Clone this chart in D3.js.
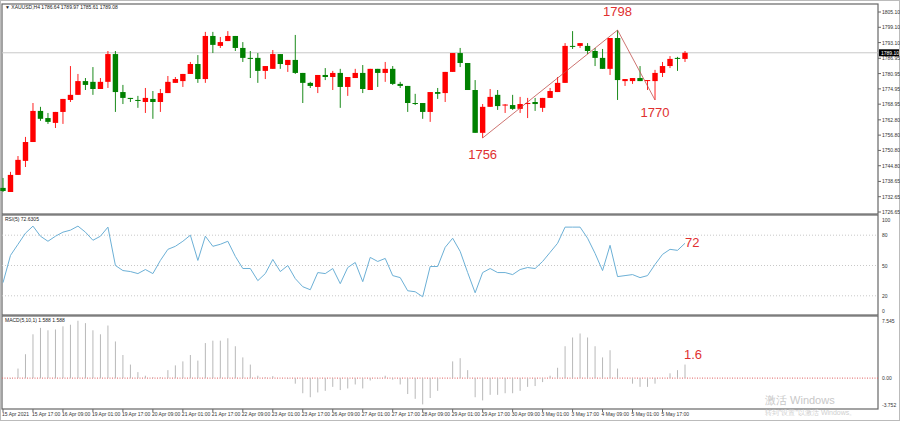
<!DOCTYPE html>
<html>
<head>
<meta charset="utf-8">
<script src="https://cdn.jsdelivr.net/npm/d3@7"></script>
<style>
body { margin: 0; background: #fff; }
svg { display: block; font-family: "Liberation Sans", Arial, sans-serif; }
</style>
</head>
<body>
<svg id="chart" width="900" height="421"></svg>
<script>
// XAUUSD H4 candles
const opens = [1736.1,1734.5,1741.2,1746.7,1754.1,1766.3,1763.5,1761.6,1765.9,1770.6,1772.6,1778.0,1777.7,1774.9,1777.7,1788.6,1773.7,1771.4,1770.6,1769.8,1771.0,1769.8,1773.3,1777.3,1778.0,1780.8,1784.7,1778.8,1795.7,1791.8,1793.7,1795.7,1791.0,1787.1,1787.1,1782.0,1782.8,1788.6,1784.3,1786.3,1781.2,1777.3,1775.7,1780.4,1779.6,1781.2,1775.7,1779.2,1781.2,1774.5,1782.8,1781.2,1782.8,1776.9,1776.1,1769.4,1769.4,1765.9,1773.7,1773.3,1781.6,1789.0,1785.1,1774.5,1757.7,1767.9,1772.6,1768.6,1768.6,1767.1,1769.0,1769.8,1767.5,1771.4,1773.7,1777.3,1791.8,1791.8,1791.8,1789.8,1787.1,1782.8,1794.9,1778.0,1778.0,1779.2,1778.0,1778.0,1781.2,1783.9,1787.1,1786.7];
const highs = [1740.0,1742.4,1748.6,1756.1,1769.4,1767.9,1765.5,1765.9,1771.0,1783.9,1780.8,1779.2,1783.5,1779.2,1789.8,1789.8,1776.5,1771.4,1772.2,1775.3,1774.1,1774.9,1780.0,1779.6,1780.8,1785.5,1788.2,1797.3,1797.3,1795.3,1797.6,1795.7,1793.3,1789.8,1789.0,1783.9,1790.2,1788.6,1786.3,1796.1,1781.2,1777.7,1780.4,1783.1,1782.0,1782.8,1779.6,1782.8,1784.3,1782.8,1782.8,1785.5,1783.9,1777.7,1776.1,1773.0,1769.4,1773.7,1775.3,1781.6,1789.0,1791.0,1785.1,1778.4,1769.0,1774.9,1774.5,1769.0,1772.6,1771.8,1771.4,1771.4,1771.4,1775.3,1779.6,1792.9,1797.6,1792.9,1792.9,1791.0,1790.6,1794.9,1798.0,1778.8,1779.2,1783.9,1778.4,1782.4,1785.5,1787.8,1787.5,1789.8];
const lows = [1734.5,1734.5,1741.2,1744.3,1754.1,1762.4,1761.2,1759.6,1761.2,1769.8,1772.6,1774.5,1772.6,1774.9,1775.3,1765.9,1769.0,1769.8,1767.5,1765.5,1763.2,1765.9,1773.3,1777.3,1775.7,1780.8,1777.3,1777.3,1789.0,1791.0,1793.7,1789.8,1785.5,1779.2,1777.3,1778.8,1782.8,1782.8,1781.6,1780.8,1769.4,1775.3,1773.3,1778.4,1774.5,1767.5,1772.2,1779.2,1773.3,1774.5,1775.7,1777.7,1776.5,1775.3,1765.9,1768.6,1763.2,1762.0,1771.0,1769.8,1781.6,1783.5,1774.5,1757.7,1755.7,1767.9,1766.7,1765.5,1766.7,1765.5,1763.5,1766.3,1765.9,1771.4,1773.7,1777.3,1790.6,1791.0,1788.6,1783.9,1782.8,1780.4,1770.6,1776.1,1776.9,1778.0,1774.5,1770.6,1779.6,1783.1,1782.0,1785.5];
const closes = [1734.9,1741.2,1747.1,1754.1,1766.3,1763.2,1762.0,1765.9,1771.0,1772.6,1778.0,1776.5,1774.9,1777.7,1788.6,1773.7,1771.4,1771.0,1770.2,1771.4,1769.8,1773.3,1777.7,1778.8,1780.8,1784.7,1778.8,1795.7,1792.2,1793.3,1795.7,1791.0,1787.1,1786.9,1782.0,1783.9,1788.6,1784.7,1786.3,1781.2,1777.3,1776.1,1780.4,1779.6,1781.2,1775.7,1779.6,1781.2,1774.9,1782.8,1781.2,1782.8,1776.9,1776.1,1769.4,1769.2,1765.9,1773.7,1773.0,1781.6,1789.0,1785.1,1774.5,1757.7,1767.9,1771.8,1768.2,1768.8,1767.1,1769.0,1769.4,1769.0,1771.4,1774.1,1777.3,1791.8,1791.6,1792.9,1789.8,1787.1,1782.8,1794.9,1778.4,1778.8,1779.2,1778.0,1778.4,1781.2,1783.9,1786.7,1786.7,1789.1];

const rsiValues = [33,60,71,82,89,79,74,79,83,85,89,83,75,79,88,50,45,44,42,46,42,55,66,69,74,80,55,79,69,71,74,59,47,47,35,42,56,44,50,37,29,26,43,42,47,32,48,53,34,58,54,57,40,38,25,24,19,49,49,68,77,64,43,23,43,47,43,43,41,46,48,47,54,63,72,88,88,88,77,62,45,70,39,40,41,38,40,51,61,66,65,72];
const macdValues = [0,-0.1,1.2,3.0,5.5,6.3,6.0,6.1,6.5,6.7,7.2,6.9,6.0,5.5,6.6,4.6,2.9,1.7,0.75,0.3,0.1,0.1,1.0,1.6,2.1,2.9,2.2,4.4,4.7,4.7,5.0,4.0,2.6,1.7,0.3,0.1,0.25,0,-0.1,-0.7,-1.9,-2.4,-1.8,-1.6,-1.1,-1.5,-1.3,-0.8,-1.3,-0.3,-0.1,0.3,-0.2,-0.8,-2.0,-2.6,-3.3,-2.5,-1.6,0,2.1,2.5,1.0,-2.4,-2.8,-2.1,-2.1,-1.9,-1.9,-1.6,-1.1,-1.0,-0.5,0.3,1.3,4.0,5.1,5.6,5.1,4.0,2.6,3.5,1.2,0,-0.7,-1.1,-1.1,-0.7,0,0.6,1.0,1.7];

const dateLabels = ['15 Apr 2021','15 Apr 17:00','16 Apr 09:00','19 Apr 01:00','19 Apr 17:00','20 Apr 09:00','21 Apr 01:00','21 Apr 17:00','22 Apr 09:00','23 Apr 01:00','23 Apr 17:00','26 Apr 09:00','27 Apr 01:00','27 Apr 17:00','28 Apr 09:00','29 Apr 01:00','29 Apr 17:00','30 Apr 09:00','3 May 01:00','3 May 17:00','4 May 09:00','5 May 01:00','5 May 17:00'];
const priceTicks = [1805.10,1799.10,1793.10,1786.95,1780.95,1774.95,1768.95,1762.80,1756.80,1750.80,1744.80,1738.65,1732.65,1726.65];
const rsiTicks = [100,80,50,20,0];
const macdTicks = [7.545,0,-3.752];

// zigzag pivots: bar index and price
const zigzag = [[64,1755.7],[82,1798.0],[87,1770.6]];
const notes = [
  {i:82, p:1798, text:'1798', dy:-14},
  {i:64, p:1756, text:'1756', dy:22},
  {i:87, p:1770, text:'1770', dy:16}
];

const svg = d3.select('#chart');
const left = 2, right = 878;

const x = d3.scaleLinear().domain([0, 91]).range([3, 685]);
const yP = d3.scaleLinear().domain([1726.65, 1805.10]).range([212, 12]);
const yR = d3.scaleLinear().domain([0, 100]).range([316, 215]);
const yM = d3.scaleLinear().domain([-3.752, 7.545]).range([408, 318]);

// frames
svg.append('rect').attr('x', 0.5).attr('y', 0.5).attr('width', 899).attr('height', 420)
	.attr('fill', 'none').attr('stroke', '#bbb');
const panels = [[4, 214], [215, 315], [316, 409]];
panels.forEach(([t, b]) => {
	svg.append('rect').attr('x', left).attr('y', t).attr('width', right - left).attr('height', b - t)
		.attr('fill', 'none').attr('stroke', '#666').attr('stroke-width', 1.2);
});

// right-hand tick labels
function ticks(vals, scale, fmt) {
	svg.append('g').selectAll('text').data(vals).enter().append('text')
		.attr('x', right + 4).attr('y', d => scale(d) + 2)
		.attr('font-size', 5).attr('fill', '#333').text(fmt);
	svg.append('g').selectAll('line').data(vals).enter().append('line')
		.attr('x1', right).attr('x2', right + 3).attr('y1', d => scale(d)).attr('y2', d => scale(d))
		.attr('stroke', '#666');
}
ticks(priceTicks, yP, d => d.toFixed(2));
svg.append('g').selectAll('text').data(rsiTicks).enter().append('text')
	.attr('x', right + 4).attr('y', d => d === 100 ? 222 : d === 0 ? 313 : yR(d) + 2)
	.attr('font-size', 5).attr('fill', '#333').text(d => d);
svg.append('g').selectAll('text').data(macdTicks).enter().append('text')
	.attr('x', right + 4).attr('y', d => d === 7.545 ? 323 : d === 0 ? yM(d) + 2 : 407)
	.attr('font-size', 5).attr('fill', '#333').text(d => d === 0 ? '0.00' : d);

// current price line + box
const last = closes[closes.length - 1];
svg.append('line').attr('x1', left).attr('x2', right).attr('y1', yP(last)).attr('y2', yP(last))
	.attr('stroke', '#c8c8c8');
svg.append('rect').attr('x', right + 1).attr('y', yP(last) - 3.5).attr('width', 20).attr('height', 7).attr('fill', '#000');
svg.append('text').attr('x', right + 3).attr('y', yP(last) + 2).attr('font-size', 5).attr('fill', '#fff')
	.text(last.toFixed(2));

// candles
const bars = d3.range(opens.length);
const cg = svg.append('g');
cg.selectAll('line').data(bars).enter().append('line')
	.attr('x1', i => x(i)).attr('x2', i => x(i))
	.attr('y1', i => yP(highs[i])).attr('y2', i => yP(lows[i]))
	.attr('stroke', i => closes[i] >= opens[i] ? '#ff2020' : '#1a8a1a');
cg.selectAll('rect').data(bars).enter().append('rect')
	.attr('x', i => x(i) - 2.7).attr('width', 5.4)
	.attr('y', i => yP(Math.max(opens[i], closes[i])))
	.attr('height', i => Math.max(1, Math.abs(yP(opens[i]) - yP(closes[i]))))
	.attr('fill', i => closes[i] >= opens[i] ? '#ff0000' : '#008000');

// zigzag
svg.append('path').datum(zigzag)
	.attr('d', d3.line().x(d => x(d[0])).y(d => yP(d[1])))
	.attr('fill', 'none').attr('stroke', '#c0504d').attr('stroke-width', 0.8);
svg.append('g').selectAll('text').data(notes).enter().append('text')
	.attr('x', d => x(d.i)).attr('y', d => yP(d.p) + d.dy).attr('text-anchor', 'middle')
	.attr('font-size', 13).attr('fill', '#e03030').text(d => d.text);

// header
svg.append('text').attr('x', 5).attr('y', 9).attr('font-size', 5).attr('fill', '#222')
	.text('▼ XAUUSD,H4  1786.64 1789.97 1785.61 1789.08');

// RSI
[80, 50, 20].forEach(v => {
	svg.append('line').attr('x1', left).attr('x2', right).attr('y1', yR(v)).attr('y2', yR(v))
		.attr('stroke', '#c8c8c8').attr('stroke-dasharray', '1,2');
});
svg.append('path').datum(rsiValues)
	.attr('d', d3.line().x((d, i) => x(i)).y(d => yR(d)))
	.attr('fill', 'none').attr('stroke', '#6cb0d6').attr('stroke-width', 1);
svg.append('text').attr('x', 5).attr('y', 221).attr('font-size', 5).attr('fill', '#222').text('RSI(5) 72.6305');
svg.append('text').attr('x', 685).attr('y', 247).attr('font-size', 13).attr('fill', '#e03030').text('72');

// MACD
svg.append('line').attr('x1', left).attr('x2', right).attr('y1', yM(0)).attr('y2', yM(0))
	.attr('stroke', '#e06060').attr('stroke-dasharray', '1,1.5');
svg.append('g').selectAll('line').data(macdValues).enter().append('line')
	.attr('x1', (d, i) => x(i)).attr('x2', (d, i) => x(i))
	.attr('y1', yM(0)).attr('y2', d => yM(d))
	.attr('stroke', '#b8b8b8').attr('stroke-width', 1);
svg.append('text').attr('x', 5).attr('y', 322).attr('font-size', 5).attr('fill', '#222').text('MACD(5,10,1) 1.588 1.588');
svg.append('text').attr('x', 684).attr('y', 359).attr('font-size', 13).attr('fill', '#e03030').text('1.6');

// date axis
svg.append('g').selectAll('text').data(dateLabels).enter().append('text')
	.attr('x', (d, k) => x(k * 4) - 1).attr('y', 416).attr('font-size', 5).attr('fill', '#333').text(d => d);
svg.append('g').selectAll('line').data(dateLabels).enter().append('line')
	.attr('x1', (d, k) => x(k * 4)).attr('x2', (d, k) => x(k * 4)).attr('y1', 409).attr('y2', 412)
	.attr('stroke', '#666');

// watermark
svg.append('text').attr('x', 765).attr('y', 404).attr('font-size', 11).attr('fill', '#c8c8c8').text('激活 Windows');
svg.append('text').attr('x', 765).attr('y', 415).attr('font-size', 7).attr('fill', '#cfcfcf').text('转到"设置"以激活 Windows。');
</script>
</body>
</html>
